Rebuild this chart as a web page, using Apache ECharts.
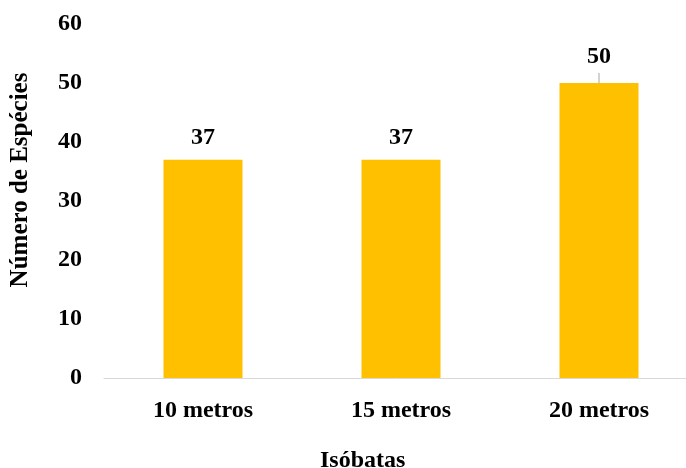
<!DOCTYPE html>
<html>
<head>
<meta charset="utf-8">
<script src="https://cdn.jsdelivr.net/npm/echarts@6/dist/echarts.min.js"></script>
<style>html,body{margin:0;padding:0;background:#fff;}#c{width:686px;height:468px;}</style>
</head>
<body>
<div id="c"></div>
<script>
const categories = ['10 metros', '15 metros', '20 metros'];
const species = [37, 37, 50];
const errorPlus = [0, 0, 1.7];
const yTicks = [0, 10, 20, 30, 40, 50, 60];
const yTitle = 'Número de Espécies';
const xTitle = 'Isóbatas';

const FONT = '"Liberation Serif", "Times New Roman", serif';
const chart = echarts.init(document.getElementById('c'), null, {renderer: 'canvas'});
chart.setOption({
  animation: false,
  textStyle: {fontFamily: FONT},
  grid: {left: 104, top: 24, right: -12, bottom: 90, containLabel: false, outerBoundsMode: 'none'},
  xAxis: {
    type: 'category',
    data: categories,
    axisLine: {lineStyle: {color: '#D9D9D9', width: 1}},
    axisTick: {show: false},
    axisLabel: {color: '#000', fontFamily: FONT, fontWeight: 'bold', fontSize: 24, margin: 21}
  },
  yAxis: {
    type: 'value',
    min: yTicks[0],
    max: yTicks[yTicks.length - 1],
    interval: 10,
    splitLine: {show: false},
    axisLine: {show: false},
    axisTick: {show: false},
    axisLabel: {color: '#000', fontFamily: FONT, fontWeight: 'bold', fontSize: 24, margin: 22}
  },
  graphic: [
    {type: 'text', x: 21, y: 180, rotation: Math.PI / 2,
     style: {text: yTitle, fill: '#000', font: 'bold 25px ' + FONT, align: 'center', verticalAlign: 'middle'}},
    {type: 'text', left: 320, top: 449,
     style: {text: xTitle, fill: '#000', font: 'bold 24px ' + FONT}}
  ],
  series: [
    {
      type: 'bar',
      data: species.map((v, i) => ({value: v, label: {distance: errorPlus[i] > 0 ? 14 : 10}})),
      barWidth: 79,
      itemStyle: {color: '#FFC000'},
      label: {show: true, position: 'top', color: '#000', fontFamily: FONT, fontWeight: 'bold', fontSize: 24}
    },
    {
      type: 'custom',
      data: species.map((v, i) => [i, v, v + errorPlus[i]]),
      renderItem: function (params, api) {
        const p0 = api.coord([api.value(0), api.value(1)]);
        const p1 = api.coord([api.value(0), api.value(2)]);
        if (Math.abs(p1[1] - p0[1]) < 0.5) return null;
        return {type: 'line', shape: {x1: p0[0], y1: p0[1], x2: p1[0], y2: p1[1]}, style: {stroke: '#A6A6A6', lineWidth: 1}};
      },
      z: 3
    }
  ]
});
</script>
</body>
</html>
